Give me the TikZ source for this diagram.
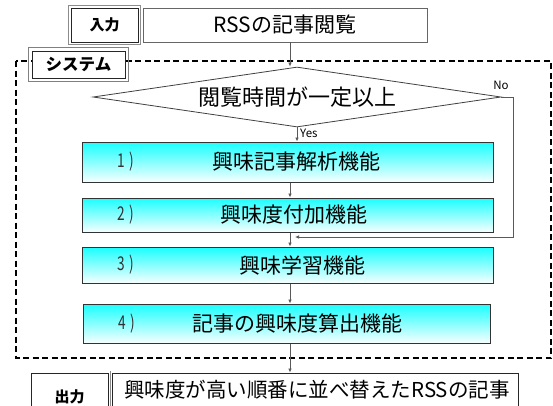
\documentclass[tikz,border=0pt]{standalone}
\usepackage{fontspec}
\setmainfont{Noto Sans CJK JP}
\usetikzlibrary{shapes.geometric,arrows.meta}
\begin{document}
\begin{tikzpicture}[x=1pt,y=-1pt,
  lbl/.style={draw=black!85,line width=0.9pt,fill=white,inner sep=0pt,font=\fontsize{15}{15}\selectfont\bfseries},
  txtbox/.style={draw=black!60,line width=0.9pt,fill=white,inner sep=0pt,font=\fontsize{21}{21}\selectfont},
  func/.style={draw=black!80,line width=1pt,top color=cyan!90!white,bottom color=cyan!3!white,inner sep=0pt,font=\fontsize{21}{21}\selectfont},
  num/.style={inner sep=0pt,text=black!80,font=\fontsize{19}{19}\selectfont},
  arr/.style={draw=black!65,line width=0.7pt,-{Latex[length=4pt,width=3.5pt]}},
  small/.style={inner sep=0pt,font=\fontsize{11.5}{12}\selectfont},
]
\path[use as bounding box] (0,0) rectangle (553,405);
\clip (0,0) rectangle (553,405);

% input
\node[lbl,minimum width=67pt,minimum height=34pt] (inl) at (104.5,25) {入力};
\draw[black!45,line width=0.6pt] ([shift={(-2,-2)}]inl.north west) rectangle ([shift={(2,2)}]inl.south east);
\node[txtbox,minimum width=284pt,minimum height=34pt] (rss) at (285,25) {RSSの記事閲覧};

% system dashed frame
\draw[line width=1.3pt,dash pattern=on 6pt off 3.5pt] (16,61) rectangle (551,358);
\node[lbl,minimum width=93pt,minimum height=27pt,font=\fontsize{16.5}{16}\selectfont\bfseries] (sys) at (78.5,64.5) {システム};
\draw[black!50,line width=0.9pt] ([shift={(-3,-3)}]sys.north west) rectangle ([shift={(3,3)}]sys.south east);

% decision
\node[draw=black!75,line width=0.8pt,shape=diamond,aspect=6.8,minimum width=408pt,minimum height=60pt,inner sep=0pt,fill=white,font=\fontsize{22}{22}\selectfont] (dec) at (297,97) {閲覧時間が一定以上};

% function boxes
\node[func,minimum width=411pt,minimum height=40pt] (f1) at (287.5,162) {\hspace*{18pt}興味記事解析機能};
\node[func,minimum width=411pt,minimum height=34pt] (f2) at (287.5,215) {\hspace*{12pt}興味度付加機能};
\node[func,minimum width=411pt,minimum height=36pt] (f3) at (287.5,265) {\hspace*{30pt}興味学習機能};
\node[func,minimum width=407pt,minimum height=39pt] (f4) at (286.5,323.5) {\hspace*{22pt}記事の興味度算出機能};
\node[num] (n1) at (126,162) {\scalebox{0.72}[1]{1\,\,)}};
\node[num] (n2) at (126,215) {\scalebox{0.72}[1]{2\,\,)}};
\node[num] (n3) at (126,265) {\scalebox{0.72}[1]{3\,\,)}};
\node[num] (n4) at (127,323.5) {\scalebox{0.72}[1]{4\,\,)}};

% output
\node[lbl,minimum width=77pt,minimum height=48pt,font=\fontsize{15}{15}\selectfont\bfseries] (outl) at (69.5,397) {出力};
\node[txtbox,draw=black!85,minimum width=406pt,minimum height=34pt,font=\fontsize{20.5}{21}\selectfont] (outt) at (315,390) {\hspace*{4pt}興味度が高い順番に並べ替えたRSSの記事};
\draw[black!45,line width=0.6pt] ([shift={(2,-2)}]outl.north east) -- ([shift={(2,2)}]outl.south east);

% connectors
\coordinate (ax) at (290,0);
\draw[arr] (rss.south -| ax) -- (dec.north -| ax);
\draw[arr] (dec.south) -- (dec.south |- f1.north);
\node[small,anchor=west] (yes) at (300,133) {Yes};
\draw[arr] (f1.south -| ax) -- (f2.north -| ax);
\draw[arr] (f2.south -| ax) -- (f3.north -| ax);
\draw[arr] (f3.south -| ax) -- (f4.north -| ax);
\draw[arr] (f4.south -| ax) -- (outt.north -| ax);
\coordinate (nr) at (513,97);
\coordinate (nb) at (513,237);
\coordinate (ne) at (295,237);
\draw[arr] (dec.east) -- (nr) -- (nb) -- (ne);
\node[small] (no) at (501,85) {No};
\end{tikzpicture}
\end{document}
